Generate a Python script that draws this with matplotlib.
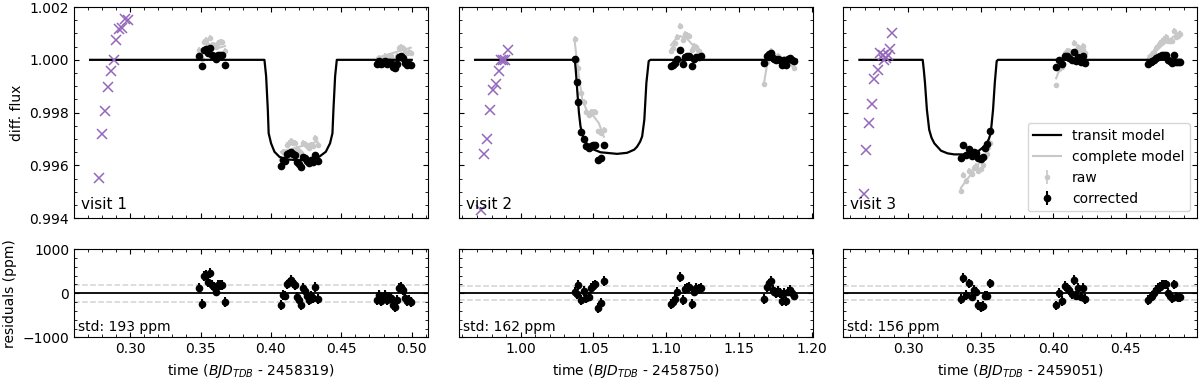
import matplotlib
matplotlib.use("Agg")
import matplotlib.pyplot as plt
from matplotlib.ticker import MultipleLocator, FormatStrFormatter

plt.rcParams['font.family'] = 'DejaVu Sans'
plt.rcParams['font.size'] = 10

visits = ["visit 1", "visit 2", "visit 3"]
t_offsets = ["2458319", "2458750", "2459051"]
std_ppm = [193, 162, 156]
err_ppm = [110, 110, 110]

# ---- visit 1
v1_model_t = [0.2716, 0.3954, 0.3966, 0.3978, 0.3984, 0.4001, 0.4025, 0.4060, 0.4107, 0.4201,
              0.4295, 0.4343, 0.4390, 0.4420, 0.4437, 0.4444, 0.4456, 0.4468, 0.5000]
v1_model_f = [1.0, 1.0, 0.99938, 0.99811, 0.99722, 0.99684, 0.99652, 0.99633, 0.99623, 0.99620,
              0.99623, 0.99633, 0.99652, 0.99684, 0.99722, 0.99811, 0.99938, 1.0, 1.0]
v1_excl_t = [0.2781, 0.2802, 0.2823, 0.2842, 0.2866, 0.2885, 0.2903, 0.2922, 0.2941, 0.2965, 0.2988]
v1_excl_f = [0.99554, 0.99720, 0.99807, 0.99899, 0.99958, 1.00000, 1.00074, 1.00115, 1.00122, 1.00154, 1.00150]
v1_t = [0.3489, 0.3510, 0.3527, 0.3541, 0.3553, 0.3570, 0.3584, 0.3598, 0.3612, 0.3624, 0.3638, 0.3654, 0.3673,
        0.4072, 0.4088, 0.4102, 0.4117, 0.4131, 0.4145, 0.4159, 0.4173, 0.4187, 0.4201, 0.4216, 0.4230, 0.4244,
        0.4258, 0.4272, 0.4286, 0.4300, 0.4314, 0.4331,
        0.4755, 0.4769, 0.4783, 0.4797, 0.4811, 0.4825, 0.4839, 0.4853, 0.4867, 0.4881, 0.4895, 0.4909, 0.4923,
        0.4937, 0.4951, 0.4965, 0.4979, 0.4993]
v1_corr = [1.00013, 0.99976, 1.00039, 1.00041, 1.00024, 1.00046, 1.00019, 1.00015, 1.00004, 1.00019, 1.00019, 1.00019, 0.99980,
           0.99599, 0.99620, 0.99618, 0.99642, 0.99646, 0.99652, 0.99642, 0.99639, 0.99614, 0.99606, 0.99596, 0.99633, 0.99628,
           0.99618, 0.99608, 0.99619, 0.99614, 0.99640, 0.99616,
           0.99985, 0.99996, 0.99983, 0.99989, 0.99996, 0.99985, 0.99993, 0.99989, 0.99974, 0.99969, 0.99985, 1.00011, 1.00015,
           1.00007, 0.99989, 0.99982, 0.99985, 0.99980]
v1_raw = [1.00038, 1.00004, 1.00069, 1.00074, 1.00058, 1.00083, 1.00058, 1.00056, 1.00047, 1.00064, 1.00066, 1.00068, 1.00032,
          0.99626, 0.99650, 0.99651, 0.99679, 0.99685, 0.99693, 0.99687, 0.99686, 0.99662, 0.99656, 0.99647, 0.99686, 0.99682,
          0.99674, 0.99666, 0.99678, 0.99674, 0.99703, 0.99677,
          0.99993, 1.00006, 0.99995, 1.00004, 1.00013, 1.00004, 1.00014, 1.00013, 1.00000, 0.99997, 1.00015, 1.00044, 1.00050,
          1.00044, 1.00028, 1.00024, 1.00029, 1.00026]
v1_res = [126, -244, 385, 407, 244, 459, 185, 148, 37, 185, 185, 185, -200,
          -259, -37, -52, 200, 244, 296, 222, 185, -74, -148, -259, 111, 52, -52, -148, -52, -111, 148, -126,
          -148, -37, -170, -111, -37, -148, -74, -111, -259, -315, -148, 111, 148, 74, -111, -185, -148, -200]
v1_full_t = [[0.3489, 0.3673], [0.4072, 0.4331], [0.4755, 0.4993]]
v1_full_f = [[1.00025, 1.00052], [0.99652, 0.99690], [1.00008, 1.00046]]

# ---- visit 2
v2_model_t = [0.9687, 1.0372, 1.0380, 1.0388, 1.0400, 1.0411, 1.0434, 1.0480, 1.0548, 1.0662,
              1.0731, 1.0780, 1.0799, 1.0820, 1.0834, 1.0849, 1.0863, 1.0879, 1.0891, 1.1895]
v2_model_f = [1.0, 1.0, 0.9995, 0.99887, 0.99800, 0.99747, 0.99697, 0.99665, 0.99650, 0.99644,
              0.99648, 0.99660, 0.99671, 0.99690, 0.99710, 0.99773, 0.99912, 0.99995, 1.0, 1.0]
v2_excl_t = [0.9731, 0.9751, 0.9772, 0.9790, 0.9810, 0.9831, 0.9851, 0.9863, 0.9879, 0.9892, 0.9911]
v2_excl_f = [0.99432, 0.99644, 0.99702, 0.99811, 0.99884, 0.99907, 0.99956, 1.00000, 1.00000, 1.00000, 1.00038]
v2_t = [1.0370, 1.0384, 1.0397, 1.0413, 1.0434, 1.0450, 1.0468, 1.0484, 1.0498, 1.0511, 1.0534, 1.0550, 1.0571,
        1.1032, 1.1046, 1.1059, 1.1073, 1.1094, 1.1114, 1.1130, 1.1142, 1.1155, 1.1176, 1.1192, 1.1207, 1.1224, 1.1240,
        1.1673, 1.1690, 1.1704, 1.1717, 1.1731, 1.1742, 1.1753, 1.1767, 1.1781, 1.1795, 1.1808, 1.1822, 1.1836,
        1.1849, 1.1863, 1.1877]
v2_corr = [1.00004, 0.99916, 0.99840, 0.99728, 0.99702, 0.99675, 0.99666, 0.99675, 0.99676, 0.99678, 0.99620, 0.99628, 0.99676,
           0.99976, 0.99980, 0.99987, 1.00004, 1.00037, 0.99985, 1.00010, 1.00013, 1.00015, 0.99976, 1.00004, 1.00011, 1.00010, 1.00013,
           0.99987, 1.00015, 1.00022, 1.00027, 1.00007, 1.00004, 1.00000, 1.00005, 1.00000, 0.99982, 1.00000, 0.99982, 1.00004,
           1.00007, 1.00000, 0.99995]
v2_raw = [1.00078, 0.99998, 0.99969, 0.99875, 0.99840, 0.99801, 0.99791, 0.99801, 0.99802, 0.99802, 0.99729, 0.99723, 0.99736,
          1.00032, 1.00046, 1.00062, 1.00086, 1.00127, 1.00075, 1.00097, 1.00093, 1.00089, 1.00038, 1.00054, 1.00049, 1.00032, 1.00021,
          0.99907, 0.99991, 1.00022, 1.00035, 1.00017, 1.00015, 1.00011, 1.00015, 1.00008, 0.99988, 1.00004, 0.99984, 1.00001,
          0.99997, 0.99983, 0.99970]
v2_res = [37, -22, 185, -148, 52, -111, -74, 111, 163, 200, -333, -222, 274,
          -244, -200, -126, 37, 370, -148, 96, 126, 148, -244, 37, 111, 96, 126,
          -126, 148, 222, 274, 74, 37, 0, 52, 0, -185, 0, -185, 37, 74, 0, -52]
v2_full_t = [[1.0370, 1.0388, 1.0400, 1.0423, 1.0457, 1.0503, 1.0537, 1.0571],
             [1.1032, 1.1062, 1.1096, 1.1142, 1.1188, 1.1240],
             [1.1673, 1.1690, 1.1713, 1.1758, 1.1827, 1.1877]]
v2_full_f = [[1.00074, 0.99989, 0.99938, 0.99849, 0.99804, 0.99785, 0.99760, 0.99709],
             [1.00056, 1.00077, 1.00090, 1.00080, 1.00052, 1.00008],
             [0.99920, 0.99976, 1.00008, 1.00011, 1.00001, 0.99975]]

# ---- visit 3
v3_model_t = [0.2663, 0.3099, 0.3107, 0.3115, 0.3128, 0.3144, 0.3160, 0.3179, 0.3225, 0.3270, 0.3316,
              0.3408, 0.3477, 0.3534, 0.3555, 0.3568, 0.3584, 0.3596, 0.3609, 0.3618, 0.4880]
v3_model_f = [1.0, 1.0, 0.9996, 0.99912, 0.99811, 0.99735, 0.99705, 0.99684, 0.99656, 0.99646, 0.99642,
              0.99642, 0.99652, 0.99677, 0.99700, 0.99722, 0.99811, 0.99912, 0.99995, 1.0, 1.0]
v3_excl_t = [0.2691, 0.2707, 0.2732, 0.2751, 0.2766, 0.2790, 0.2808, 0.2824, 0.2835, 0.2847, 0.2858, 0.2872, 0.2888]
v3_excl_f = [0.99493, 0.99658, 0.99760, 0.99834, 0.99928, 0.99963, 1.00027, 1.00020, 1.00001, 1.00008, 1.00020, 1.00042, 1.00103]
v3_t = [0.3362, 0.3380, 0.3401, 0.3419, 0.3440, 0.3453, 0.3467, 0.3483, 0.3499, 0.3513, 0.3527, 0.3541, 0.3563,
        0.4019, 0.4040, 0.4060, 0.4079, 0.4095, 0.4111, 0.4125, 0.4141, 0.4159, 0.4173, 0.4187, 0.4202, 0.4220,
        0.4655, 0.4672, 0.4683, 0.4694, 0.4708, 0.4722, 0.4735, 0.4749, 0.4763, 0.4776, 0.4790, 0.4804, 0.4818,
        0.4832, 0.4845, 0.4859, 0.4873]
v3_corr = [0.99629, 0.99677, 0.99638, 0.99664, 0.99636, 0.99650, 0.99647, 0.99628, 0.99626, 0.99634, 0.99665, 0.99680, 0.99730,
           0.99973, 1.00000, 0.99983, 1.00016, 1.00013, 1.00007, 0.99999, 1.00030, 0.99995, 1.00011, 0.99993, 1.00013, 0.99987,
           0.99985, 0.99993, 0.99995, 1.00000, 1.00007, 1.00011, 1.00015, 1.00019, 1.00020, 1.00020, 1.00000, 0.99995, 0.99989,
           1.00020, 0.99993, 0.99990, 0.99990]
v3_raw = [0.99502, 0.99563, 0.99540, 0.99580, 0.99566, 0.99590, 0.99597, 0.99579, 0.99585, 0.99600, 0.99633, 0.99644, 0.99687,
          0.99903, 0.99965, 0.99973, 1.00024, 1.00033, 1.00034, 1.00030, 1.00065, 1.00032, 1.00049, 1.00032, 1.00052, 1.00026,
          0.99999, 1.00014, 1.00021, 1.00031, 1.00044, 1.00054, 1.00063, 1.00073, 1.00080, 1.00086, 1.00072, 1.00073, 1.00073,
          1.00110, 1.00088, 1.00091, 1.00097]
v3_res = [-126, 348, -37, 222, -74, 74, 37, -259, -319, -281, -52, -52, 222,
          -274, 0, -170, 163, 126, 74, -15, 296, -52, 111, -74, 126, -126,
          -148, -74, -52, 0, 74, 111, 148, 185, 200, 200, 0, -52, -111, 200, -74, -96, -96]
v3_full_t = [[0.3362, 0.3563], [0.4019, 0.4060, 0.4095, 0.4141, 0.4220], [0.4655, 0.4873]]
v3_full_f = [[0.99515, 0.99665], [0.99930, 0.99990, 1.00020, 1.00035, 1.00039], [1.00014, 1.00107]]

model_t = [v1_model_t, v2_model_t, v3_model_t]
model_f = [v1_model_f, v2_model_f, v3_model_f]
excl_t = [v1_excl_t, v2_excl_t, v3_excl_t]
excl_f = [v1_excl_f, v2_excl_f, v3_excl_f]
obs_t = [v1_t, v2_t, v3_t]
corr_f = [v1_corr, v2_corr, v3_corr]
raw_f = [v1_raw, v2_raw, v3_raw]
resid = [v1_res, v2_res, v3_res]
full_t = [v1_full_t, v2_full_t, v3_full_t]
full_f = [v1_full_f, v2_full_f, v3_full_f]

fig = plt.figure(figsize=(12, 3.79), dpi=100)
lefts = [0.0617, 0.3825, 0.7028]
width = 0.2948

grey = '#c8c8c8'

for i in range(3):
    ax = fig.add_axes([lefts[i], 0.424, width, 0.5575])
    axr = fig.add_axes([lefts[i], 0.1095, width, 0.2335], sharex=ax)
    err = err_ppm[i] * 1e-6

    raw_h = ax.errorbar(obs_t[i], raw_f[i], yerr=err, fmt='o', color=grey, ms=3, elinewidth=1.2,
                        capsize=0, label='raw', zorder=1)
    for gt, gf in zip(full_t[i], full_f[i]):
        full_h, = ax.plot(gt, gf, color=grey, lw=1.5, zorder=2, label='complete model')
    mod_h, = ax.plot(model_t[i], model_f[i], color='k', lw=1.6, zorder=3, label='transit model')
    ax.plot(excl_t[i], excl_f[i], 'x', color='#9467bd', ms=7, mew=1.1, zorder=3)
    corr_h = ax.errorbar(obs_t[i], corr_f[i], yerr=err, fmt='o', color='k', ms=4.5, elinewidth=1.5,
                         capsize=0, label='corrected', zorder=4)

    ax.set_ylim(0.994, 1.002)
    ax.yaxis.set_major_locator(MultipleLocator(0.002))
    ax.yaxis.set_minor_locator(MultipleLocator(0.0005))
    ax.yaxis.set_major_formatter(FormatStrFormatter('%.3f'))
    ax.xaxis.set_major_locator(MultipleLocator(0.05))
    ax.xaxis.set_minor_locator(MultipleLocator(0.01))
    ax.text(0.02, 0.03, visits[i], transform=ax.transAxes, ha='left', va='bottom', fontsize=11)

    axr.errorbar(obs_t[i], resid[i], yerr=err_ppm[i], fmt='o', color='k', ms=4.5, elinewidth=1.5,
                 capsize=0, zorder=4)
    axr.axhline(0, color='k', lw=1.3, zorder=2)
    axr.axhline(std_ppm[i], color='lightgrey', ls='--', lw=1.1, zorder=1)
    axr.axhline(-std_ppm[i], color='lightgrey', ls='--', lw=1.1, zorder=1)
    axr.set_ylim(-1000, 1000)
    axr.set_yticks([-1000, 0, 1000])
    axr.yaxis.set_minor_locator(MultipleLocator(200))
    axr.text(0.01, 0.04, 'std: %d ppm' % std_ppm[i], transform=axr.transAxes, ha='left', va='bottom')
    axr.set_xlabel('time ($BJD_{TDB}$ - ' + t_offsets[i] + ')')

    for a in (ax, axr):
        a.tick_params(which='both', direction='in', top=True, right=True)
    ax.tick_params(labelbottom=False)
    if i == 0:
        ax.set_ylabel('diff. flux')
        axr.set_ylabel('residuals (ppm)')
    else:
        ax.tick_params(labelleft=False)
        axr.tick_params(labelleft=False)
    if i == 2:
        ax.legend([mod_h, full_h, raw_h, corr_h], ['transit model', 'complete model', 'raw', 'corrected'],
                  loc='lower right', fontsize=10)

fig.savefig('out.png', dpi=100)
